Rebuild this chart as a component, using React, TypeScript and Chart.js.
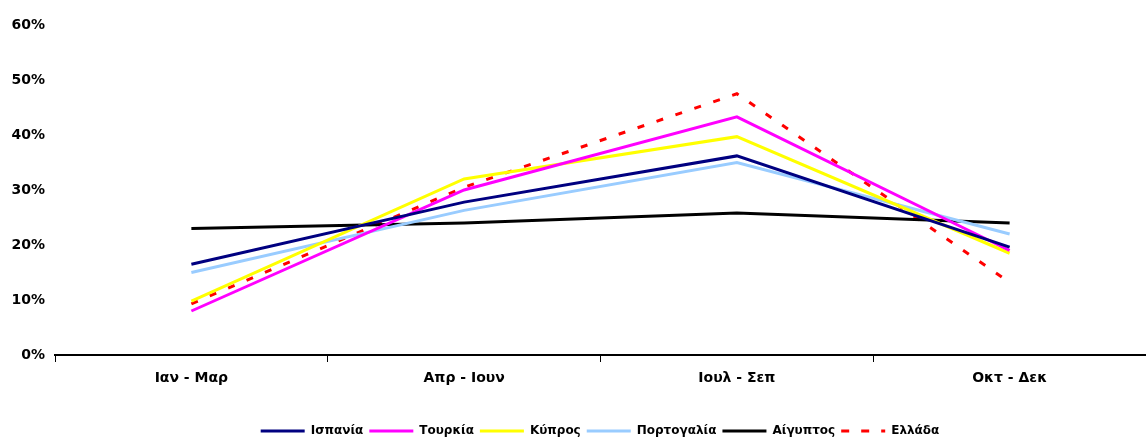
import React, { useEffect, useRef } from "react";
import { Chart, registerables } from "chart.js";

Chart.register(...registerables);

const categories = ["Ιαν - Μαρ", "Απρ - Ιουν", "Ιουλ - Σεπ", "Οκτ - Δεκ"];
const spain = [16.5, 27.8, 36.2, 19.6];
const turkey = [8.0, 30.0, 43.3, 19.0];
const cyprus = [9.8, 32.0, 39.7, 18.5];
const portugal = [15.0, 26.3, 35.0, 22.0];
const egypt = [23.0, 24.0, 25.8, 24.0];
const greece = [9.3, 30.5, 47.5, 13.2];
const seriesNames = ["Ισπανία", "Τουρκία", "Κύπρος", "Πορτογαλία", "Αίγυπτος", "Ελλάδα"];

const legendHeightPlugin = {
  id: "legendHeight",
  beforeInit(chart: any) {
    const legend = chart.legend;
    if (!legend) return;
    const orig = legend.fit;
    legend.fit = function () {
      orig.bind(legend)();
      this.height = 22;
    };
  },
  afterLayout(chart: any) {
    if (chart.legend) chart.legend.left += 54;
  },
};

export default function App() {
  const ref = useRef<HTMLCanvasElement | null>(null);
  useEffect(() => {
    if (!ref.current) return;
    const font = { family: "'DejaVu Sans', sans-serif", weight: "bold" as const, size: 14 };
    const mk = (label: string, data: number[], color: string, dash: number[] = []) => ({
      label,
      data,
      borderColor: color,
      backgroundColor: color,
      borderWidth: 3,
      borderDash: dash,
      pointRadius: 0,
      tension: 0,
      fill: false,
    });
    const chart = new Chart(ref.current, {
      type: "line",
      plugins: [legendHeightPlugin],
      data: {
        labels: categories,
        datasets: [
          mk(seriesNames[0], spain, "#000080"),
          mk(seriesNames[1], turkey, "#FF00FF"),
          mk(seriesNames[2], cyprus, "#FFFF00"),
          mk(seriesNames[3], portugal, "#99CCFF"),
          mk(seriesNames[4], egypt, "#000000"),
          mk(seriesNames[5], greece, "#FF0000", [7, 13]),
        ],
      },
      options: {
        animation: false,
        responsive: false,
        maintainAspectRatio: false,
        layout: { padding: { top: 25, right: 0, left: 0, bottom: 0 } },
        plugins: {
          tooltip: { enabled: false },
          legend: {
            position: "bottom",
            labels: {
              boxWidth: 44,
              boxHeight: 0,
              padding: 6,
              color: "#000",
              font: { family: "'DejaVu Sans', sans-serif", weight: "bold", size: 12 },
            },
          },
        },
        scales: {
          x: {
            offset: true,
            grid: {
              display: true,
              drawOnChartArea: false,
              drawTicks: true,
              tickLength: 7,
              color: "#000",
              offset: true,
            },
            border: { display: true, color: "#000", width: 2 },
            ticks: { color: "#000", font, padding: 8, maxRotation: 0 },
            afterFit: (s: any) => {
              s.height = 64;
            },
          },
          y: {
            min: 0,
            max: 60,
            grid: { display: false, drawTicks: false },
            border: { display: false },
            ticks: {
              stepSize: 10,
              color: "#000",
              font,
              padding: 10,
              callback: (v: any) => v + "%",
            },
            afterFit: (s: any) => {
              s.width = 55;
            },
          },
        },
      },
    });
    return () => chart.destroy();
  }, []);
  return (
    <div style={{ position: "fixed", left: 0, top: 0, width: 1146, height: 441, background: "#fff" }}>
      <canvas ref={ref} width={1146} height={441} style={{ width: 1146, height: 441 }} />
    </div>
  );
}
